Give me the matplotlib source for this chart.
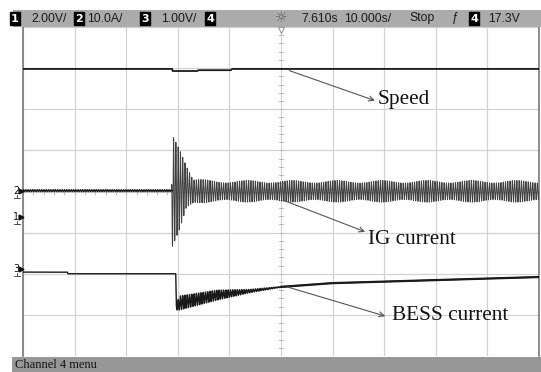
import numpy as np
import matplotlib
matplotlib.use("Agg")
import matplotlib.pyplot as plt
from matplotlib.patches import Rectangle
from matplotlib.lines import Line2D

# ---------------- data (x in s, y in divisions) -------------
# Speed trace
speed_t = [0, 28.9, 29.0, 33.8, 34.0, 40.3, 40.5, 100]
speed_v = [2.98, 2.98, 2.93, 2.93, 2.95, 2.95, 2.98, 2.98]

# IG current: oscillation envelope (upper / lower)
ig_t = [0, 28.8, 28.9, 30.4, 31.7, 32.9, 40, 60, 80, 100]
ig_hi = [0.05, 0.05, 1.38, 1.00, 0.60, 0.30, 0.27, 0.27, 0.27, 0.27]
ig_lo = [-0.01, -0.01, -1.35, -0.90, -0.37, -0.28, -0.26, -0.26, -0.26, -0.26]

# BESS current: mean level and ripple amplitude
bess_t = [0, 8.6, 8.7, 29.6, 29.7, 30.4, 37.6, 44.0, 50.0, 59.5, 73.1, 86.6, 100]
bess_mid = [-1.96, -1.96, -2.00, -2.00, -2.80, -2.71, -2.52, -2.42, -2.32, -2.23, -2.18, -2.13, -2.08]
bess_rip = [0, 0, 0, 0, 0.08, 0.17, 0.12, 0.04, 0.01, 0, 0, 0, 0]

osc_freq = 2.27      # oscillation frequency (cycles per second of screen time)
beat_freq = 0.115    # slow amplitude beating of the IG band

labels = ["Speed", "IG current", "BESS current"]
label_xy = [(68.8, 2.23), (66.9, -1.16), (71.5, -3.02)]
arrow_from = [(51.6, 2.94), (50.4, -0.21), (51.2, -2.32)]
arrow_to = [(68.2, 2.21), (66.3, -0.98), (70.2, -3.03)]

top_items = [("box", "1"), ("txt", "2.00V/"), ("box", "2"), ("txt", "10.0A/"),
             ("box", "3"), ("txt", "1.00V/"), ("box", "4"), ("sun", "\u263c"),
             ("txt", "7.610s"), ("txt", "10.000s/"), ("txt", "Stop"),
             ("txt", "\u0192"), ("box", "4"), ("txt", "17.3V")]
top_x = [15, 31, 79, 87, 145, 161, 210, 281, 301, 344, 409, 452, 474, 488]

# ---------------- figure ---------------------------------------------------------------
W, H = 541, 372
fig = plt.figure(figsize=(W / 100, H / 100), dpi=100)
fig.patch.set_facecolor("white")

def fx(px):
    return px / W

def fy(py):
    return 1 - py / H

ax = fig.add_axes([fx(23), fy(356), fx(539) - fx(23), fy(27) - fy(356)])
ax.set_xlim(0, 100)
ax.set_ylim(-4, 4)
ax.set_xticks(np.arange(0, 101, 10))
ax.set_yticks(np.arange(-4, 5, 1))
ax.tick_params(length=0, labelbottom=False, labelleft=False)
ax.grid(True, color="#d2d2d2", lw=0.9)
ax.set_axisbelow(True)
for s in ["left", "right"]:
    ax.spines[s].set_color("#7a7a7a")
    ax.spines[s].set_linewidth(1.2)
for s in ["top", "bottom"]:
    ax.spines[s].set_visible(False)

# centre line minor ticks
for yy in np.arange(-4, 4.01, 0.2):
    ax.plot([49.6, 50.4], [yy, yy], color="#b8b8b8", lw=0.7, zorder=1)
for xx in np.arange(0, 100.01, 2):
    ax.plot([xx, xx], [-0.05, 0.05], color="#b8b8b8", lw=0.7, zorder=1)

# trigger marker at top
ax.plot([50], [3.92], marker="v", ms=5, mfc="white", mec="#999999", mew=0.8,
        clip_on=False, zorder=5)

t = np.linspace(0, 100, 40000)
car = np.sin(2 * np.pi * osc_freq * t)
beat = 0.88 + 0.12 * np.cos(2 * np.pi * beat_freq * t)

# speed
ax.plot(speed_t, speed_v, color="#1a1a1a", lw=1.3, zorder=3)

# IG current
hi = np.interp(t, ig_t, ig_hi)
lo = np.interp(t, ig_t, ig_lo)
ig = (hi + lo) / 2 + (hi - lo) / 2 * car * np.where(t > 33, beat, 1.0)
ax.plot(t, ig, color="#404040", lw=0.7, zorder=3)
pre = t < 28.9
ax.plot(t[pre], np.full(pre.sum(), 0.02), color="#1a1a1a", lw=1.2, zorder=4)

# BESS current
mid = np.interp(t, bess_t, bess_mid)
rip = np.interp(t, bess_t, bess_rip)
bess = mid + rip * car
ax.plot(t, bess, color="#1a1a1a", lw=1.0, zorder=3)
ax.plot(t[t > 50], mid[t > 50], color="#1a1a1a", lw=1.6, zorder=3)

# annotations
for lab, (lx, ly), a0, a1 in zip(labels, label_xy, arrow_from, arrow_to):
    ax.annotate("", xy=a1, xytext=a0,
                arrowprops=dict(arrowstyle="->", color="#555555", lw=0.8,
                                shrinkA=0, shrinkB=0, mutation_scale=9))
    ax.text(lx, ly, lab, ha="left", va="center", fontsize=15.3,
            family="Liberation Serif", color="#111111", zorder=6)

# ---------------- top status bar --------------------------------------------------------
fig.patches.append(Rectangle((fx(13), fy(27)), 1 - fx(13), fy(10) - fy(27),
                             transform=fig.transFigure, facecolor="#ababab",
                             edgecolor="none", zorder=0))
yc = fy(18.5)
for (kind, s), x in zip(top_items, top_x):
    if kind == "box":
        fig.text(fx(x), yc, s, ha="center", va="center", fontsize=8,
                 family="DejaVu Sans", fontweight="bold", color="white",
                 bbox=dict(boxstyle="square,pad=0.12", fc="black", ec="black"))
    elif kind == "sun":
        fig.text(fx(x), yc, s, ha="center", va="center", fontsize=10,
                 family="DejaVu Sans", color="#5a5a5a")
    else:
        fig.text(fx(x), yc, s, ha="left", va="center", fontsize=8.8,
                 family="Liberation Sans", color="#1a1a1a")

# ---------------- bottom menu bar -------------------------------------------------------
fig.patches.append(Rectangle((fx(12), 0), 1 - fx(12), fy(356.5),
                             transform=fig.transFigure, facecolor="#979797",
                             edgecolor="none", zorder=0))
fig.text(fx(15), fy(364.5), "Channel 4 menu", ha="left", va="center", fontsize=9,
         family="Liberation Serif", color="#111111")

# ---------------- channel ground markers ------------------------------------------------
for lab, py in [("2", 190.7), ("1", 216.7), ("3", 268.5)]:
    fig.text(fx(16), fy(py), lab, ha="center", va="center", fontsize=7,
             family="DejaVu Sans", color="#111111")
    fig.add_artist(Line2D([fx(21)], [fy(py)], marker=">", ms=3.5, color="#111111",
                          transform=fig.transFigure))
    fig.add_artist(Line2D([fx(17), fx(17)], [fy(py + 4), fy(py + 7)], lw=0.6,
                          color="#333333", transform=fig.transFigure))
    fig.add_artist(Line2D([fx(14), fx(20)], [fy(py + 7), fy(py + 7)], lw=0.6,
                          color="#333333", transform=fig.transFigure))

fig.savefig("out.png", dpi=100, facecolor="white")
